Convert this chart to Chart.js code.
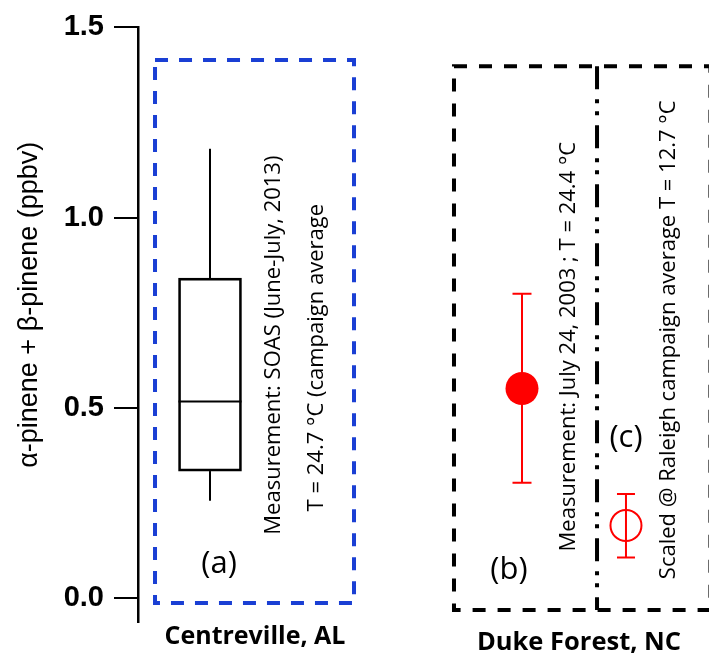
<!DOCTYPE html>
<html>
<head>
<meta charset="utf-8">
<script src="https://cdn.jsdelivr.net/npm/chart.js@4.4.1/dist/chart.umd.min.js"></script>
<style>
  html, body { margin: 0; padding: 0; background: #fff; }
  canvas { display: block; }
</style>
</head>
<body>
<canvas id="chart" width="709" height="656"></canvas>
<script>
// Sites and panel annotations
const siteLabels = ['Centreville, AL', 'Duke Forest, NC'];
const panelLabels = ['(a)', '(b)', '(c)'];
const notesA = ['Measurement: SOAS (June-July, 2013)', 'T = 24.7 °C (campaign average'];
const notesB = ['Measurement: July 24, 2003 ; T = 24.4 °C'];
const notesC = ['Scaled @ Raleigh campaign average T = 12.7 °C'];
const yTitle = 'α-pinene + β-pinene (ppbv)';

// Y axis ticks
const yTicks = [0.0, 0.5, 1.0, 1.5];
const yTickLabels = ['0.0', '0.5', '1.0', '1.5'];

// (a) SOAS box plot: lower whisker, Q1, median, Q3, upper whisker (ppbv)
const soasBox = [0.256, 0.334, 0.517, 0.841, 1.181];

// (b) Duke Forest measurement: mean with low/high range (ppbv)
const dukeMeasured = [0.551];
const dukeMeasuredLow = [0.303];
const dukeMeasuredHigh = [0.800];

// (c) Scaled to Raleigh campaign average temperature (ppbv)
const dukeScaled = [0.191];
const dukeScaledLow = [0.107];
const dukeScaledHigh = [0.274];

// Horizontal slots of the three panels on a 0–10 x scale
const slotX = [1.261, 6.725, 8.546];

// Panel frames and annotation anchors, in scale units
const frameA = { x0: 0.298, x1: 3.783, y0: -0.013, y1: 1.414 };
const frameDuke = { x0: 5.534, x1: 10.025, y0: -0.031, y1: 1.398, split: 8.039 };
const anchors = {
  notesA: [[2.382, 0.665], [3.135, 0.632]],
  notesB: [[7.548, 0.661]],
  notesC: [[9.299, 0.679]],
  panel: [[1.419, 0.089], [6.497, 0.073], [8.546, 0.421]],
  site: [[2.049, -0.102], [7.723, -0.118]],
  yTitle: 0.771
};

const noteFont = '22px "Open Sans"';
const panelFont = '31px "Open Sans"';
const siteFonts = ['bold 25px "Open Sans"', 'bold 25.5px "Open Sans"'];

function rotatedText(ctx, text, x, y, font) {
  ctx.save();
  ctx.translate(x, y);
  ctx.rotate(-Math.PI / 2);
  ctx.font = font;
  ctx.textAlign = 'center';
  ctx.textBaseline = 'middle';
  ctx.fillText(text, 0, 0);
  ctx.restore();
}

function dashedRect(ctx, xs, ys, f, color, dash) {
  const l = xs.getPixelForValue(f.x0), r = xs.getPixelForValue(f.x1);
  const t = ys.getPixelForValue(f.y1), b = ys.getPixelForValue(f.y0);
  ctx.save();
  ctx.strokeStyle = color;
  ctx.lineWidth = 4;
  ctx.setLineDash(dash);
  ctx.strokeRect(l, t, r - l, b - t);
  ctx.restore();
}

function errorBar(ctx, xs, ys, x, lo, hi, color, cap) {
  const px = xs.getPixelForValue(x);
  const pl = ys.getPixelForValue(lo), ph = ys.getPixelForValue(hi);
  ctx.save();
  ctx.strokeStyle = color;
  ctx.lineWidth = 2;
  ctx.beginPath();
  ctx.moveTo(px, pl); ctx.lineTo(px, ph);
  if (cap) {
    ctx.moveTo(px - cap, pl); ctx.lineTo(px + cap, pl);
    ctx.moveTo(px - cap, ph); ctx.lineTo(px + cap, ph);
  }
  ctx.stroke();
  ctx.restore();
}

const decorations = {
  id: 'decorations',
  beforeDatasetsDraw(chart) {
    const { ctx, scales: { x, y } } = chart;
    // red range bars sit underneath the markers
    errorBar(ctx, x, y, slotX[1], dukeMeasuredLow[0], dukeMeasuredHigh[0], '#ff0000', 9.5);
    errorBar(ctx, x, y, slotX[2], dukeScaledLow[0], dukeScaledHigh[0], '#ff0000', 9);
  },
  afterDatasetsDraw(chart) {
    const { ctx, scales: { x, y } } = chart;
    // box plot whiskers and median
    errorBar(ctx, x, y, slotX[0], soasBox[3], soasBox[4], '#000', 0);
    errorBar(ctx, x, y, slotX[0], soasBox[0], soasBox[1], '#000', 0);
    const bar = chart.getDatasetMeta(0).data[0];
    const pm = y.getPixelForValue(soasBox[2]);
    ctx.save();
    ctx.strokeStyle = '#000';
    ctx.lineWidth = 2;
    ctx.beginPath();
    ctx.moveTo(bar.x - bar.width / 2, pm);
    ctx.lineTo(bar.x + bar.width / 2, pm);
    ctx.stroke();
    ctx.restore();
  },
  afterDraw(chart) {
    const { ctx, scales: { x, y } } = chart;
    // panel frames
    dashedRect(ctx, x, y, frameA, '#1a3fd4', [13, 11]);
    dashedRect(ctx, x, y, frameDuke, '#000', [13, 12]);
    const sx = x.getPixelForValue(frameDuke.split);
    ctx.save();
    ctx.strokeStyle = '#000';
    ctx.lineWidth = 4;
    ctx.setLineDash([23, 10, 4, 8, 4, 10]);
    ctx.beginPath();
    ctx.moveTo(sx, y.getPixelForValue(frameDuke.y1));
    ctx.lineTo(sx, y.getPixelForValue(frameDuke.y0));
    ctx.stroke();
    ctx.restore();

    ctx.fillStyle = '#000';
    notesA.forEach((t, i) => rotatedText(ctx, t, x.getPixelForValue(anchors.notesA[i][0]), y.getPixelForValue(anchors.notesA[i][1]), noteFont));
    notesB.forEach((t, i) => rotatedText(ctx, t, x.getPixelForValue(anchors.notesB[i][0]), y.getPixelForValue(anchors.notesB[i][1]), noteFont));
    notesC.forEach((t, i) => rotatedText(ctx, t, x.getPixelForValue(anchors.notesC[i][0]), y.getPixelForValue(anchors.notesC[i][1]), noteFont));

    ctx.save();
    ctx.textAlign = 'center';
    ctx.textBaseline = 'middle';
    ctx.font = panelFont;
    panelLabels.forEach((t, i) => ctx.fillText(t, x.getPixelForValue(anchors.panel[i][0]), y.getPixelForValue(anchors.panel[i][1])));
    siteLabels.forEach((t, i) => {
      ctx.font = siteFonts[i];
      ctx.fillText(t, x.getPixelForValue(anchors.site[i][0]), y.getPixelForValue(anchors.site[i][1]));
    });
    ctx.restore();

    // y axis title
    rotatedText(ctx, yTitle, y.left + 30, y.getPixelForValue(anchors.yTitle), '27px "Liberation Sans"');
  }
};

new Chart(document.getElementById('chart'), {
  type: 'bar',
  data: {
    datasets: [
      {
        type: 'bar',
        data: [{ x: slotX[0], y: [soasBox[1], soasBox[3]] }],
        backgroundColor: 'rgba(255,255,255,0)',
        borderColor: '#000',
        borderWidth: 2,
        borderSkipped: false,
        barThickness: 63
      },
      {
        type: 'scatter',
        data: [{ x: slotX[1], y: dukeMeasured[0] }],
        pointRadius: 16.5,
        pointBackgroundColor: '#ff0000',
        pointBorderWidth: 0
      },
      {
        type: 'scatter',
        data: [{ x: slotX[2], y: dukeScaled[0] }],
        pointRadius: 15.5,
        pointBackgroundColor: 'rgba(255,255,255,0)',
        pointBorderColor: '#ff0000',
        pointBorderWidth: 2
      }
    ]
  },
  options: {
    responsive: false,
    devicePixelRatio: 1,
    animation: false,
    layout: { autoPadding: false, padding: { left: 0, right: 0, top: 24, bottom: 34 } },
    plugins: { legend: { display: false }, tooltip: { enabled: false } },
    scales: {
      x: { type: 'linear', min: 0, max: 10, offset: false, display: false },
      y: {
        min: -0.0627,
        max: 1.5,
        afterBuildTicks: s => { s.ticks = yTicks.map(v => ({ value: v })); },
        afterFit: s => { s.width = 138; },
        border: { display: true, color: '#000', width: 2.5 },
        grid: { display: true, drawOnChartArea: false, drawTicks: true, tickLength: 24, color: '#000', lineWidth: 2 },
        ticks: {
          font: { family: 'Liberation Sans', size: 29, weight: 'bold' },
          color: '#000',
          padding: 10,
          callback: (v, i) => yTickLabels[i]
        }
      }
    }
  },
  plugins: [decorations]
});
</script>
</body>
</html>
